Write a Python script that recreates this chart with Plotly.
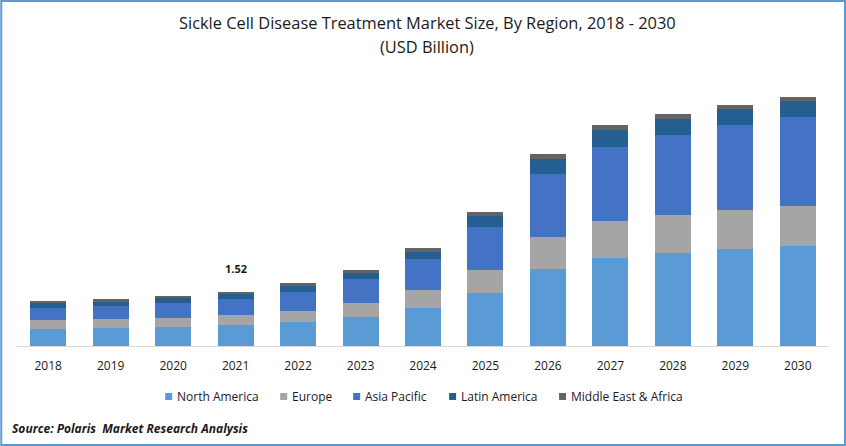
import plotly.graph_objs as go

# market size by region, USD billion
years = ['2018', '2019', '2020', '2021', '2022', '2023', '2024', '2025', '2026', '2027', '2028', '2029', '2030']
north_america = [0.48, 0.51, 0.54, 0.59, 0.68, 0.82, 1.07, 1.49, 2.17, 2.48, 2.62, 2.73, 2.82]
europe = [0.25, 0.25, 0.25, 0.28, 0.31, 0.39, 0.51, 0.65, 0.90, 1.04, 1.07, 1.10, 1.13]
asia_pacific = [0.34, 0.37, 0.42, 0.45, 0.54, 0.68, 0.87, 1.21, 1.77, 2.08, 2.25, 2.39, 2.51]
latin_america = [0.14, 0.11, 0.14, 0.14, 0.17, 0.17, 0.20, 0.31, 0.42, 0.48, 0.45, 0.45, 0.45]
middle_east = [0.06, 0.08, 0.06, 0.06, 0.06, 0.08, 0.11, 0.11, 0.14, 0.14, 0.14, 0.11, 0.11]

WIDTH, HEIGHT = 846, 446
LEFT, RIGHT, TOP, BOTTOM = 16.75, 17, 86, 100
FONT = 'Open Sans'
TEXT = '#1a1a1a'

def px(x):
    return (x - LEFT) / (WIDTH - LEFT - RIGHT)

def py(y):
    return (HEIGHT - BOTTOM - y) / (HEIGHT - TOP - BOTTOM)

fig = go.Figure()
series = [('North America', north_america, '#5B9BD5', 165),
          ('Europe', europe, '#A5A5A5', 280),
          ('Asia Pacific', asia_pacific, '#4472C4', 353),
          ('Latin America', latin_america, '#255E91', 449),
          ('Middle East & Africa', middle_east, '#636363', 559)]
for name, values, color, key_x in series:
    fig.add_trace(go.Bar(x=years, y=values, name=name, marker=dict(color=color, line=dict(width=0))))
    # legend key drawn by hand, the built-in one leaves too wide a gap before the text
    fig.add_shape(type='rect', xref='paper', yref='paper', x0=px(key_x), x1=px(key_x + 7), y0=py(400), y1=py(393),
                  fillcolor=color, line=dict(width=0))
    fig.add_annotation(xref='paper', yref='paper', x=px(key_x + 10), y=py(396.5), xanchor='left', yanchor='middle',
                       text=name, showarrow=False, font=dict(size=12, color=TEXT))

fig.update_layout(
    barmode='stack',
    bargap=0.424,
    width=WIDTH,
    height=HEIGHT,
    autosize=False,
    showlegend=False,
    margin=dict(l=LEFT, r=RIGHT, t=TOP, b=BOTTOM),
    paper_bgcolor='white',
    plot_bgcolor='white',
    font=dict(family=FONT, size=12, color=TEXT),
    xaxis=dict(type='category', showline=True, linecolor='#D9D9D9', linewidth=1, ticks='', showgrid=False,
               ticklabelstandoff=9, tickfont=dict(size=12, color=TEXT)),
    yaxis=dict(visible=False, range=[0, 7.32], showgrid=False),
)

# title lines as annotations, layout.title got cut at the top edge
fig.add_annotation(xref='paper', yref='paper', x=px(427), y=py(23), xanchor='center', yanchor='middle',
                   text='Sickle Cell Disease Treatment Market Size, By Region, 2018 - 2030', showarrow=False,
                   font=dict(size=16.4, color=TEXT))
fig.add_annotation(xref='paper', yref='paper', x=px(427), y=py(46), xanchor='center', yanchor='middle',
                   text='(USD Billion)', showarrow=False, font=dict(size=16.4, color=TEXT))

# category axis: annotation x has to be the index, a '2021' string is read as a number
fig.add_annotation(x=years.index('2021'), y=1.52, yshift=14, yanchor='bottom', text='<b>1.52</b>', showarrow=False,
                   font=dict(size=11, color=TEXT))
fig.add_annotation(xref='paper', yref='paper', x=px(10), y=py(428), xanchor='left', yanchor='middle',
                   text='<b><i>Source: Polaris  Market Research Analysis</i></b>', showarrow=False,
                   font=dict(size=12, color=TEXT))
# outer frame
fig.add_shape(type='rect', xref='paper', yref='paper', x0=px(1), x1=px(845), y0=py(445), y1=py(1),
              line=dict(color='#5B9BD5', width=2), layer='above')

fig.write_html('out.html', config=dict(displayModeBar=False), post_script="document.body.style.margin='0';")
